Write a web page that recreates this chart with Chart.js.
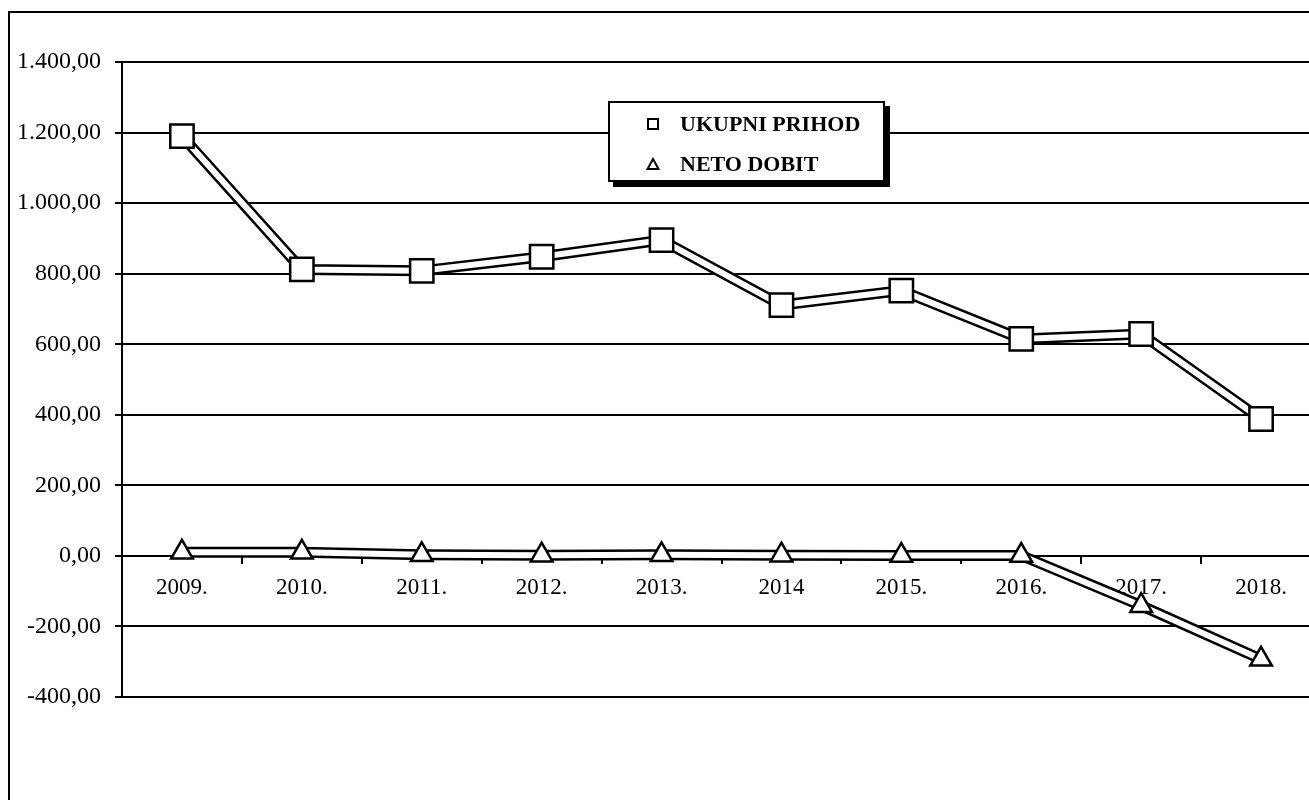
<!DOCTYPE html>
<html>
<head>
<meta charset="utf-8">
<script src="https://cdn.jsdelivr.net/npm/chart.js@4.4.1/dist/chart.umd.min.js"></script>
<style>
  html, body { margin: 0; padding: 0; background: #fff; overflow: hidden; width: 1309px; height: 800px; }
  #wrap { position: absolute; left: 0; top: 0; width: 1340px; height: 800px; }
  #frame { position: absolute; left: 8px; top: 11px; width: 1400px; height: 900px;
           border-left: 2px solid #000; border-top: 2px solid #000; pointer-events: none; }
  #legend { position: absolute; left: 608px; top: 101px; width: 273px; height: 77px;
            border: 2px solid #000; background: #fff; box-shadow: 5px 5px 0 #000;
            font-family: "Liberation Serif", "Times New Roman", serif; font-weight: bold; font-size: 22px; color: #000; }
  .row { position: absolute; left: 0; height: 24px; line-height: 24px; white-space: nowrap; }
  .row svg { position: absolute; left: 36px; top: 5px; }
  .row span { position: absolute; left: 70px; top: 0; }
</style>
</head>
<body>
<div id="wrap">
  <canvas id="c" width="1340" height="800"></canvas>
  <div id="frame"></div>
  <div id="legend"></div>
</div>
<script>
const categories = ['2009.', '2010.', '2011.', '2012.', '2013.', '2014', '2015.', '2016.', '2017.', '2018.'];
const seriesNames = ['UKUPNI PRIHOD', 'NETO DOBIT'];
const ukupniPrihod = [1190, 812, 808, 848, 895, 711, 752, 615, 629, 388];
const netoDobit = [10, 10, 3, 2, 3, 2, 1, 1, -141, -293];
const yTickValues = [-400, -200, 0, 200, 400, 600, 800, 1000, 1200, 1400];

function fmt(v) {
  const neg = v < 0;
  const s = Math.abs(Math.round(v)).toString().replace(/\B(?=(\d{3})+(?!\d))/g, '.');
  return (neg ? '-' : '') + s + ',00';
}

const serif = '"Liberation Serif", "Times New Roman", serif';

function outline(data) {
  return { data, borderColor: '#000', borderWidth: 11, pointRadius: 0, fill: false, tension: 0, order: 3 };
}
function inner(label, data, style, r) {
  return { label, data, borderColor: '#fff', borderWidth: 6, fill: false, tension: 0, order: 1,
           pointStyle: style, pointRadius: r, pointHoverRadius: r,
           pointBackgroundColor: '#fff', pointBorderColor: '#000', pointBorderWidth: 2.5 };
}

new Chart(document.getElementById('c'), {
  type: 'line',
  data: {
    labels: categories,
    datasets: [
      outline(ukupniPrihod),
      outline(netoDobit),
      inner(seriesNames[0], ukupniPrihod, 'rect', 16.5),
      inner(seriesNames[1], netoDobit, 'triangle', 12.5)
    ]
  },
  options: {
    responsive: false,
    animation: false,
    layout: { padding: { left: 0, top: 62, right: 4, bottom: 103 } },
    plugins: { legend: { display: false }, tooltip: { enabled: false } },
    scales: {
      x: {
        type: 'category',
        position: { y: 0 },
        offset: true,
        grid: { drawOnChartArea: false, drawTicks: true, tickLength: 7, color: '#000', lineWidth: 2, offset: true },
        border: { display: true, color: '#000', width: 2 },
        ticks: { color: '#000', padding: 11, maxRotation: 0, autoSkip: false,
                 font: { family: serif, size: 23 } }
      },
      y: {
        min: -400, max: 1400,
        afterBuildTicks: (s) => { s.ticks = yTickValues.map(v => ({ value: v })); },
        afterFit: (s) => { s.width = 122; },
        grid: { color: '#000', lineWidth: 2, drawTicks: true, tickLength: 7 },
        border: { display: true, color: '#000', width: 2 },
        ticks: { color: '#000', padding: 14, callback: (v) => fmt(v),
                 font: { family: serif, size: 24 } }
      }
    }
  }
});

const legend = document.getElementById('legend');
const icons = [
  '<svg width="14" height="14"><rect x="2" y="2" width="10" height="10" fill="#fff" stroke="#000" stroke-width="2"/></svg>',
  '<svg width="14" height="14"><polygon points="7,2 12.5,12 1.5,12" fill="#fff" stroke="#000" stroke-width="2"/></svg>'
];
seriesNames.forEach((n, i) => {
  const row = document.createElement('div');
  row.className = 'row';
  row.style.top = (9 + i * 40) + 'px';
  row.style.width = '100%';
  row.innerHTML = icons[i] + '<span>' + n + '</span>';
  legend.appendChild(row);
});
</script>
</body>
</html>
